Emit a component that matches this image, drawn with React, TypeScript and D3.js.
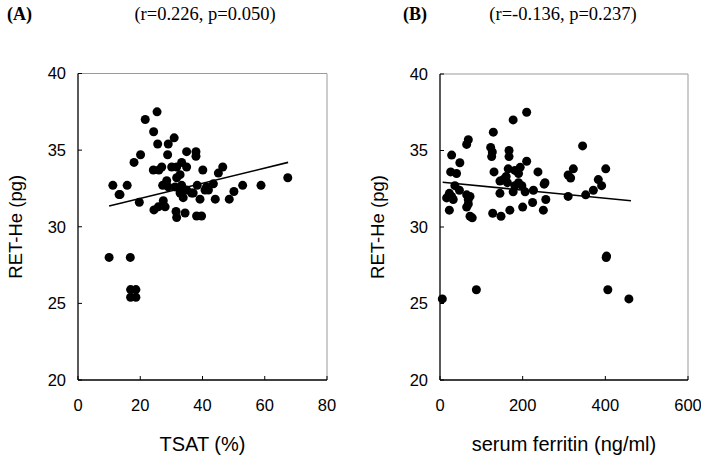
import React from "react";
import * as d3 from "d3";

const W = 701;
const H = 459;

// Panel A: TSAT vs RET-He
const tsatX = [10, 16.8, 16.9, 18.6, 16.9, 18.6, 11.2, 13.5, 15.8, 19.7, 18, 20.1, 21.6, 25.4, 24.3, 25.6, 29, 30.9, 28.8, 24.2, 26, 26.9, 30.1, 31.7, 33.3, 34.9, 34.9, 37.9, 37.9, 40.1, 46.5, 45.1, 27.2, 28.5, 31.7, 31.2, 33.3, 32.8, 33.8, 36.5, 38.3, 39.2, 41.3, 41.9, 43.5, 44.1, 48.6, 50.1, 52.9, 58.8, 67.4, 24.4, 25.8, 27.4, 28, 31.7, 31.5, 34.4, 38.1, 39.7, 29, 34.9, 32.8, 37, 40.8, 13.2];
const tsatY = [28, 28, 25.9, 25.9, 25.4, 25.4, 32.7, 32.1, 32.7, 31.6, 34.2, 34.7, 37, 37.5, 36.2, 35.4, 35.4, 35.8, 34.7, 33.7, 33.7, 33.9, 33.9, 33.9, 34.2, 33.9, 34.9, 34.9, 34.6, 33.7, 33.9, 33.5, 32.7, 33, 33.2, 32.6, 32.7, 32.2, 31.9, 32.2, 32.7, 31.8, 32.6, 32.4, 32.8, 31.8, 31.8, 32.3, 32.7, 32.7, 33.2, 31.1, 31.3, 31.7, 31.3, 30.6, 31, 30.9, 30.7, 30.7, 32.6, 32.4, 33.4, 32.2, 32.4, 32.1];
const trendA = [[10, 31.35], [67.5, 34.2]];

// Panel B: serum ferritin vs RET-He
const ferritinX = [5.6, 88, 402, 406, 457, 22.6, 16, 28, 32, 22.6, 28.2, 25.8, 40, 48, 36, 47, 64.5, 68.5, 64.5, 68.5, 72.6, 64.5, 68.5, 72.6, 78, 122.6, 126.6, 125, 129, 130.7, 127.5, 147.6, 145, 169, 177, 209.7, 167, 167, 165, 181, 194, 190, 209.7, 153, 160, 163, 145, 177, 181, 198, 206, 190, 200, 224, 226, 237, 252, 256, 250, 310, 310, 316, 322.6, 345, 352.5, 371, 383, 391, 401, 403, 254];
const ferritinY = [25.3, 25.9, 28, 25.9, 25.3, 31.1, 31.9, 32, 31.8, 32.2, 34.7, 33.6, 33.5, 34.2, 32.7, 32.4, 35.4, 35.7, 32.1, 31.8, 32, 31.3, 31.5, 30.7, 30.6, 35.2, 34.9, 34.6, 36.2, 33.6, 30.9, 30.7, 32.2, 31.1, 37, 37.5, 35, 34.6, 33.8, 33.7, 33.9, 33.5, 34.3, 33.1, 33.3, 32.9, 33, 32.3, 32.7, 32.7, 32.3, 32.9, 31.3, 31.6, 32.4, 33.6, 32.8, 31.8, 31.1, 32, 33.4, 33.2, 33.8, 35.3, 32.1, 32.4, 33.1, 32.7, 33.8, 28.1, 32.9];
const trendB = [[6.5, 32.92], [462, 31.72]];

const yTicks = [20, 25, 30, 35, 40];
const tsatTicks = [0, 20, 40, 60, 80];
const ferritinTicks = [0, 200, 400, 600];

const sans = "'Liberation Sans', Arial, sans-serif";
const serif = "'Liberation Serif', 'Times New Roman', serif";

function Panel({ left, right, top, bottom, xMax, xTicks, xs, ys, trend, xLabel, tag, stat, tagX, statX }) {
  const x = d3.scaleLinear().domain([0, xMax]).range([left, right]);
  const y = d3.scaleLinear().domain([20, 40]).range([bottom, top]);
  const line = d3.line().x(d => x(d[0])).y(d => y(d[1]));
  return (
    <g>
      <text x={tagX} y={20} fontFamily={serif} fontWeight="bold" fontSize={18}>{tag}</text>
      <text x={statX} y={20} fontFamily={serif} fontSize={18.5} textAnchor="middle">{stat}</text>
      {/* frame */}
      <line x1={left} x2={right} y1={top} y2={top} stroke="#999" strokeWidth={1} />
      <line x1={right} x2={right} y1={top} y2={bottom} stroke="#999" strokeWidth={1} />
      <line x1={left} x2={left} y1={top} y2={bottom} stroke="#000" strokeWidth={1.3} />
      <line x1={left} x2={right} y1={bottom} y2={bottom} stroke="#000" strokeWidth={1.3} />
      {yTicks.map(t => (
        <g key={"y" + t}>
          <line x1={left} x2={left + 4} y1={y(t)} y2={y(t)} stroke="#000" />
          <text x={left - 12} y={y(t)} dy="0.36em" textAnchor="end" fontFamily={sans} fontSize={16.5}>{t}</text>
        </g>
      ))}
      {xTicks.map(t => (
        <g key={"x" + t}>
          <line x1={x(t)} x2={x(t)} y1={bottom} y2={bottom - 4} stroke="#000" />
          <text x={x(t)} y={411} textAnchor="middle" fontFamily={sans} fontSize={16.5}>{t}</text>
        </g>
      ))}
      <text transform={`translate(${left - 56},${(top + bottom) / 2}) rotate(-90)`} textAnchor="middle" fontFamily={sans} fontSize={18.5}>RET-He (pg)</text>
      <text x={(left + right) / 2} y={451} textAnchor="middle" fontFamily={sans} fontSize={20}>{xLabel}</text>
      {xs.map((v, i) => (
        <circle key={i} cx={x(v)} cy={y(ys[i])} r={4.5} fill="#000" />
      ))}
      <path d={line(trend)} fill="none" stroke="#000" strokeWidth={1.6} />
    </g>
  );
}

export default function App() {
  return (
    <svg width={W} height={H} style={{ position: "absolute", left: 0, top: 0, background: "#fff" }}>
      <rect width={W} height={H} fill="#fff" />
      <Panel left={78} right={327} top={73.5} bottom={380} xMax={80} xTicks={tsatTicks}
        xs={tsatX} ys={tsatY} trend={trendA} xLabel="TSAT (%)" tag="(A)" stat="(r=0.226, p=0.050)"
        tagX={7} statX={205} />
      <Panel left={440} right={688} top={74} bottom={380} xMax={600} xTicks={ferritinTicks}
        xs={ferritinX} ys={ferritinY} trend={trendB} xLabel="serum ferritin (ng/ml)" tag="(B)" stat="(r=-0.136, p=0.237)"
        tagX={403} statX={563} />
    </svg>
  );
}
